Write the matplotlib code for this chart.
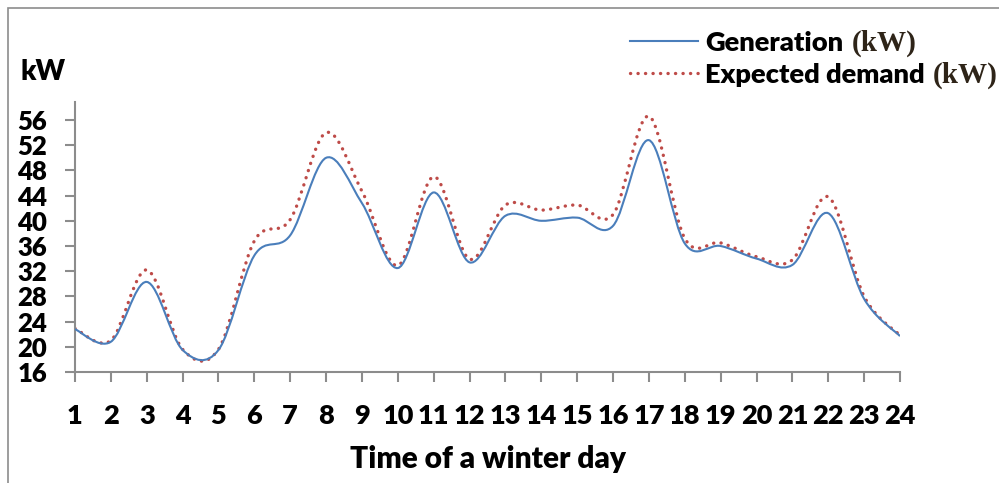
import matplotlib
matplotlib.use("Agg")
import matplotlib.pyplot as plt
from matplotlib.path import Path
from matplotlib.patches import PathPatch, Rectangle
from matplotlib.lines import Line2D

# hourly values
hours = list(range(1, 25))
generation = [22.8, 20.8, 30.3, 19.5, 19.5, 34.5, 37.7, 50.0, 42.8, 32.5, 44.5, 33.4,
              40.8, 40.0, 40.5, 39.2, 52.8, 36.4, 36.0, 34.0, 33.0, 41.2, 27.6, 21.7]
demand = [22.9, 21.0, 32.2, 19.6, 19.6, 36.8, 40.2, 54.0, 44.7, 32.9, 47.0, 33.9,
          42.5, 41.7, 42.5, 41.0, 56.6, 37.2, 36.5, 34.3, 33.8, 43.8, 28.0, 21.8]
y_ticks = list(range(16, 57, 4))

BLUE = "#4a7ebb"
RED = "#be4b48"
GRAY = "#8c8c8c"
FONT = "Lato"


def smooth_path(xs, ys):
    # Excel style smoothed line: cubic bezier with 1/6 chord control points
    n = len(xs)
    verts = [(xs[0], ys[0])]
    codes = [Path.MOVETO]
    for i in range(n - 1):
        p0 = max(i - 1, 0)
        p3 = min(i + 2, n - 1)
        c1 = (xs[i] + (xs[i + 1] - xs[p0]) / 6, ys[i] + (ys[i + 1] - ys[p0]) / 6)
        c2 = (xs[i + 1] - (xs[p3] - xs[i]) / 6, ys[i + 1] - (ys[p3] - ys[i]) / 6)
        verts += [c1, c2, (xs[i + 1], ys[i + 1])]
        codes += [Path.CURVE4] * 3
    return Path(verts, codes)


fig = plt.figure(figsize=(9.99, 4.83), dpi=100)
fig.patches.append(Rectangle((8 / 999, -0.1), 1.1, 1.1 - 8 / 483, transform=fig.transFigure,
                             fill=False, edgecolor=GRAY, linewidth=1.2))

ax = fig.add_axes([75 / 999, 111 / 483, 825 / 999, 270 / 483])

dots = (0, (0.05, 2.2))
gen_style = dict(color=BLUE, linewidth=1.5)
dem_style = dict(color=RED, linewidth=2.4, linestyle=dots, dash_capstyle="round")

ax.add_patch(PathPatch(smooth_path(hours, generation), fill=False, edgecolor=BLUE,
                       linewidth=1.5, zorder=3))
ax.add_patch(PathPatch(smooth_path(hours, demand), fill=False, edgecolor=RED,
                       linewidth=2.4, linestyle=dots, capstyle="round", zorder=2))

ax.set_xlim(1, 24)
ax.set_ylim(16, 16 + 270 / 6.3)
ax.set_xticks(hours)
ax.set_yticks(y_ticks)
for s in ["top", "right"]:
    ax.spines[s].set_visible(False)
for s in ["left", "bottom"]:
    ax.spines[s].set_color(GRAY)
    ax.spines[s].set_linewidth(1.5)
ax.tick_params(axis="both", direction="out", length=7, width=1.5, color=GRAY)
ax.tick_params(axis="y", pad=13)
ax.tick_params(axis="x", pad=16)
for lab in ax.get_xticklabels():
    lab.set_fontfamily(FONT)
    lab.set_fontweight("heavy")
    lab.set_fontsize(19.5)
for lab in ax.get_yticklabels():
    lab.set_fontfamily(FONT)
    lab.set_fontweight("heavy")
    lab.set_fontsize(18.5)

ax.set_xlabel("Time of a winter day", fontfamily=FONT, fontweight="heavy", fontsize=21.5, labelpad=12)
fig.text(20 / 999, 1 - 80 / 483, "kW", fontfamily=FONT, fontweight="heavy", fontsize=20,
         ha="left", va="baseline")

handles = [Line2D([], [], **gen_style), Line2D([], [], **dem_style)]
leg = fig.legend(handles, ["Generation", "Expected demand"], loc="upper left",
                 bbox_to_anchor=(630 / 999, 1 - 31 / 483), frameon=False,
                 prop=dict(family=FONT, weight="heavy", size=19.6),
                 handlelength=2.5, handletextpad=0.27, labelspacing=0.29,
                 borderpad=0, borderaxespad=0)

# serif "(kW)" after each legend label
fig.canvas.draw()
inv = fig.transFigure.inverted()
for t in leg.get_texts():
    bb = t.get_window_extent()
    x0, y0 = inv.transform((bb.x1 + 8, (bb.y0 + bb.y1) / 2))
    fig.text(x0, y0, "(kW)", fontfamily="Liberation Serif", fontweight="bold", fontsize=21,
             color="#2e2418", ha="left", va="center")

plt.savefig("out.png", dpi=100)
